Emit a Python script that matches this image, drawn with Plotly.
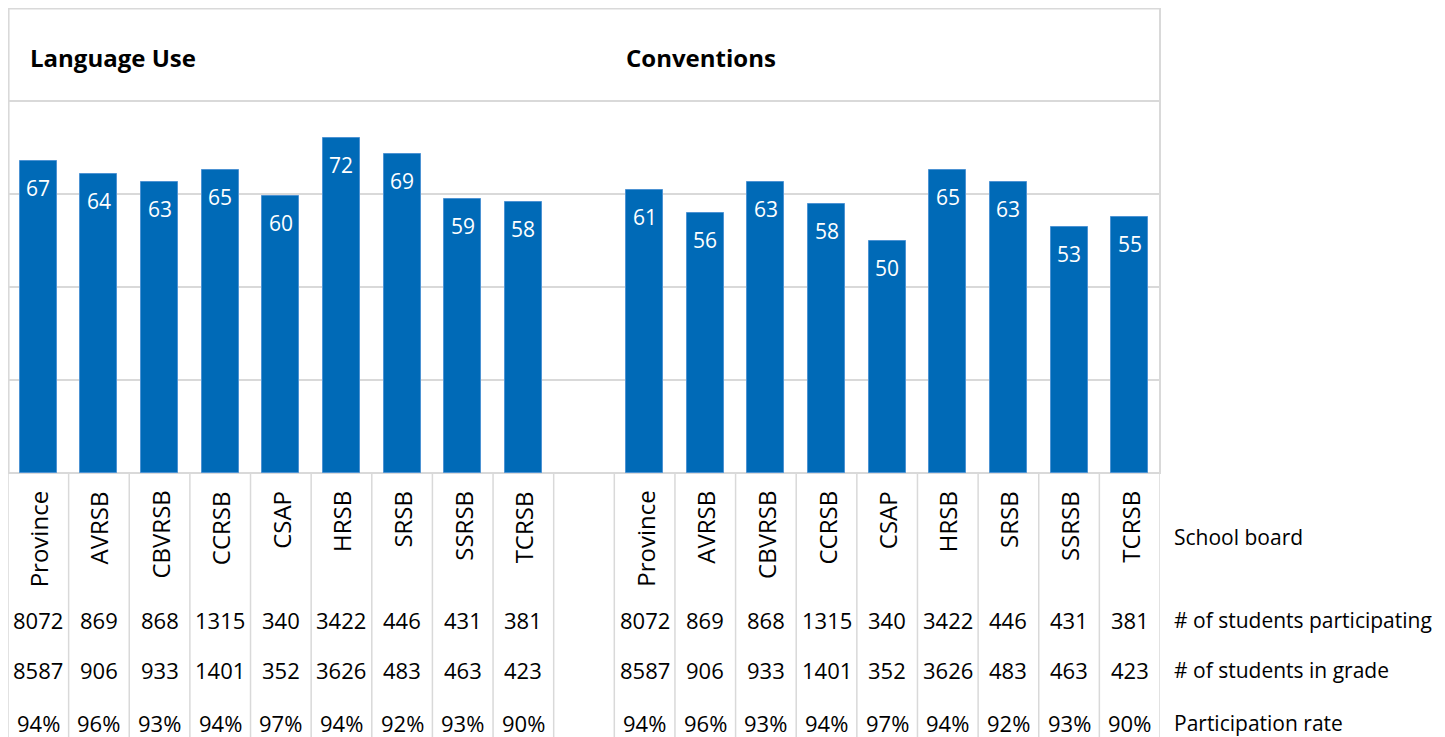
import plotly.graph_objects as go

boards = ["Province", "AVRSB", "CBVRSB", "CCRSB", "CSAP", "HRSB", "SRSB", "SSRSB", "TCRSB"]
language_use = [67.0, 64.3, 62.6, 65.1, 59.6, 72.1, 68.6, 58.9, 58.3]
conventions = [60.9, 55.9, 62.6, 57.9, 49.9, 65.1, 62.6, 52.9, 55.1]
participating = [8072, 869, 868, 1315, 340, 3422, 446, 431, 381]
in_grade = [8587, 906, 933, 1401, 352, 3626, 483, 463, 423]
rate = [94, 96, 93, 94, 97, 94, 92, 93, 90]
panel_titles = ["Language Use", "Conventions"]
row_labels = ["School board", "# of students participating", "# of students in grade", "Participation rate"]

# page has an 8px body margin; figure origin sits at page (8, 8)
W, H = 1437, 729
ML, MR, MT, MB = 0, 285, 0, 264
PH = H - MT - MB          # 465
PLOT_BOTTOM_PAGE = 473

def py(px):
    # pixel row on the page -> paper y
    return (PLOT_BOTTOM_PAGE - px) / PH

n = len(boards)
x_lu = list(range(n))
x_cv = [i + n + 1 for i in range(n)]
ncols = 2 * n + 1

BLUE = "#006AB7"
GRID = "#D9D9D9"
FONT = "Open Sans"

fig = go.Figure()
for xs, vals in [(x_lu, language_use), (x_cv, conventions)]:
    fig.add_trace(go.Bar(
        x=xs, y=vals, width=0.61,
        marker=dict(color=BLUE, line=dict(color="#4D93D3", width=1)),
        hoverinfo="skip", showlegend=False,
    ))

ann = []
# bar value labels
for xs, vals in [(x_lu, language_use), (x_cv, conventions)]:
    for x, v in zip(xs, vals):
        ann.append(dict(x=x, y=v, xref="x", yref="y", text=f"{round(v)}",
                        showarrow=False, yanchor="middle", yshift=-27,
                        font=dict(family=FONT, size=21, color="white")))

# panel titles
ann.append(dict(x=-0.17, y=89.4, xref="x", yref="y", text=f"<b>{panel_titles[0]}</b>",
                showarrow=False, xanchor="left", yanchor="middle",
                font=dict(family=FONT, size=24, color="black")))
ann.append(dict(x=n + 1 - 0.345, y=89.4, xref="x", yref="y", text=f"<b>{panel_titles[1]}</b>",
                showarrow=False, xanchor="left", yanchor="middle",
                font=dict(family=FONT, size=24, color="black")))

# table
ROW_Y = [620, 670, 723]
for xs in (x_lu, x_cv):
    for i, x in enumerate(xs):
        ann.append(dict(x=x, y=py(489), xref="x", yref="paper", text=boards[i],
                        showarrow=False, textangle=-90, xanchor="center", yanchor="top",
                        font=dict(family=FONT, size=24, color="black")))
        for txt, ypx in zip([f"{participating[i]}", f"{in_grade[i]}", f"{rate[i]}%"], ROW_Y):
            ann.append(dict(x=x, y=py(ypx), xref="x", yref="paper", text=txt,
                            showarrow=False, xanchor="center", yanchor="middle",
                            font=dict(family=FONT, size=22, color="black")))

lx = (1172 - 8) / (W - ML - MR)
for lab, ypx in zip(row_labels, [537] + ROW_Y):
    ann.append(dict(x=lx, y=py(ypx), xref="paper", yref="paper", text=lab,
                    showarrow=False, xanchor="left", yanchor="middle",
                    font=dict(family=FONT, size=21, color="black")))

shapes = []
# plot border
shapes.append(dict(type="rect", xref="paper", yref="paper", x0=0.0005, x1=1, y0=0, y1=0.999,
                   line=dict(color=GRID, width=2), layer="below"))
# table vertical lines
for k in range(ncols + 1):
    shapes.append(dict(type="line", xref="x", yref="paper", x0=k - 0.5, x1=k - 0.5,
                       y0=0, y1=py(737 + 8), line=dict(color=GRID, width=1.5)))

fig.update_layout(
    width=W, height=H,
    margin=dict(l=ML, r=MR, t=MT, b=MB, pad=0),
    paper_bgcolor="white", plot_bgcolor="white",
    bargap=0,
    xaxis=dict(range=[-0.5, ncols - 0.5], showticklabels=False, showgrid=False,
               zeroline=False, ticks="", fixedrange=True),
    yaxis=dict(range=[0, 100], dtick=20, showticklabels=False, showgrid=True,
               gridcolor=GRID, gridwidth=2, zeroline=False, ticks="", fixedrange=True),
    annotations=ann, shapes=shapes,
    font=dict(family=FONT),
)

fig.write_html("out.html", config={"displayModeBar": False})
